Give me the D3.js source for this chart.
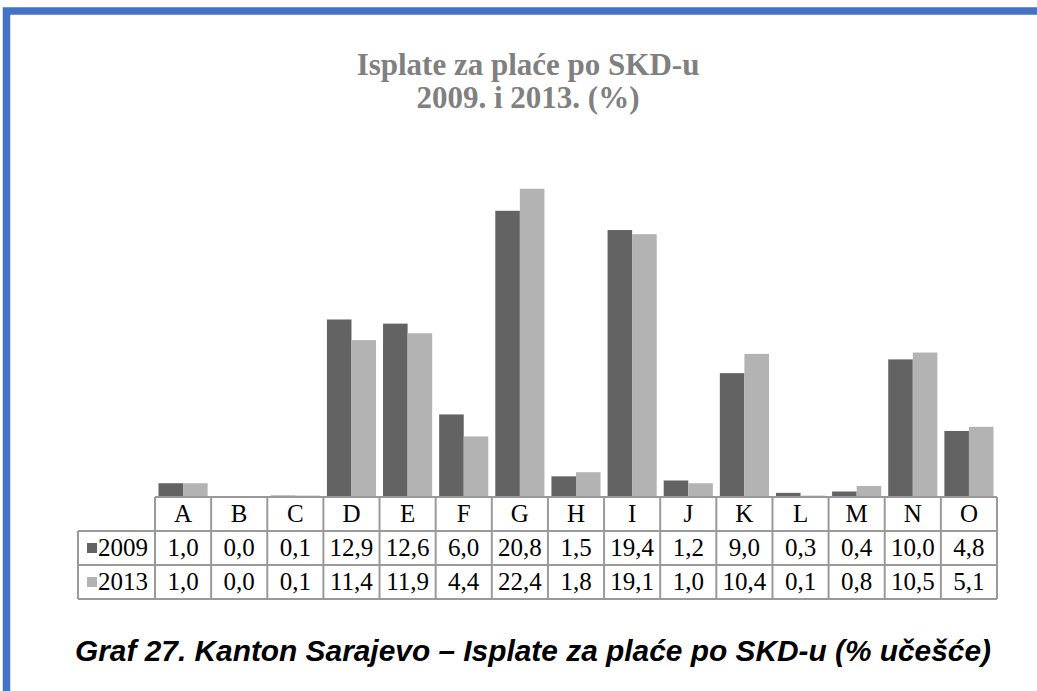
<!DOCTYPE html>
<html>
<head>
<meta charset="utf-8">
<script src="https://cdn.jsdelivr.net/npm/d3@7"></script>
<style>
  html, body { margin: 0; padding: 0; background: #fff; }
  svg { display: block; }
</style>
</head>
<body>
<div id="chart"></div>
<script>
// Datos
const categories = ["A","B","C","D","E","F","G","H","I","J","K","L","M","N","O"];
const seriesNames = ["2009", "2013"];
const values2009 = [1.0, 0.0, 0.1, 12.9, 12.6, 6.0, 20.8, 1.5, 19.4, 1.2, 9.0, 0.3, 0.4, 10.0, 4.8];
const values2013 = [1.0, 0.0, 0.1, 11.4, 11.9, 4.4, 22.4, 1.8, 19.1, 1.0, 10.4, 0.1, 0.8, 10.5, 5.1];
const seriesColors = ["#636363", "#b3b3b3"];

const titleLines = ["Isplate za plaće po SKD-u", "2009. i 2013. (%)"];
const caption = "Graf 27. Kanton Sarajevo – Isplate za plaće po SKD-u (% učešće)";

const series = [values2009, values2013];

const width = 1037, height = 691;
const svg = d3.select("#chart").append("svg")
    .attr("width", width)
    .attr("height", height);

// Marco azul
svg.append("rect")
    .attr("x", 6.5).attr("y", 11)
    .attr("width", 1200).attr("height", 900)
    .attr("fill", "none")
    .attr("stroke", "#4472C4")
    .attr("stroke-width", 7.5);

// Título
svg.append("g").selectAll("text")
    .data(titleLines)
    .enter().append("text")
    .attr("x", 528)
    .attr("y", (d, i) => 75 + i * 33)
    .attr("text-anchor", "middle")
    .style("font-family", "'Liberation Serif', 'Times New Roman', serif")
    .style("font-weight", "bold")
    .style("font-size", "31px")
    .attr("fill", "#808080")
    .text(d => d);

// Escalas
const plotLeft = 155, plotRight = 997;
const baseY = 497, topY = 153;
const x = d3.scaleBand().domain(categories).range([plotLeft, plotRight]).padding(0);
const x1 = d3.scaleBand().domain(seriesNames).range([3.5, x.bandwidth() - 3.5]).padding(0);
const y = d3.scaleLinear().domain([0, 25]).range([baseY, topY]);

// Barras
const gBars = svg.append("g");
seriesNames.forEach((name, si) => {
    gBars.append("g").selectAll("rect")
        .data(series[si])
        .enter().append("rect")
        .attr("x", (d, i) => x(categories[i]) + x1(name))
        .attr("y", d => y(d))
        .attr("width", x1.bandwidth())
        .attr("height", d => baseY - y(d))
        .attr("fill", seriesColors[si]);
});

// Tabla de datos
const fmt = d3.formatLocale({ decimal: ",", thousands: ".", grouping: [3], currency: ["", ""] }).format(".1f");
const rowH = 34;
const tableLeft = 78;
const rowTops = [baseY, baseY + rowH, baseY + 2 * rowH];
const tableBottom = baseY + 3 * rowH;
const lineColor = "#9a9a9a";
const serif = "'Liberation Serif', 'Times New Roman', serif";
const cellFont = "25px";

const gTable = svg.append("g");

// Encabezado de categorías
gTable.selectAll(".cat")
    .data(categories)
    .enter().append("text")
    .attr("class", "cat")
    .attr("x", d => x(d) + x.bandwidth() / 2)
    .attr("y", baseY + 25)
    .attr("text-anchor", "middle")
    .style("font-family", serif)
    .style("font-size", cellFont)
    .attr("fill", "#000")
    .text(d => d);

// Filas de valores
seriesNames.forEach((name, si) => {
    const ry = rowTops[si + 1];
    gTable.append("rect")
        .attr("x", 87).attr("y", ry + 12)
        .attr("width", 10).attr("height", 10)
        .attr("fill", seriesColors[si]);
    gTable.append("text")
        .attr("x", 98).attr("y", ry + 25)
        .style("font-family", serif)
        .style("font-size", cellFont)
        .attr("fill", "#000")
        .text(name);
    gTable.append("g").selectAll("text")
        .data(series[si])
        .enter().append("text")
        .attr("x", (d, i) => x(categories[i]) + x.bandwidth() / 2)
        .attr("y", ry + 25)
        .attr("text-anchor", "middle")
        .style("font-family", serif)
        .style("font-size", cellFont)
        .attr("fill", "#000")
        .text(d => fmt(d));
});

// Líneas de la tabla
const hLines = [
    { x1: plotLeft, x2: plotRight, y: rowTops[0] },
    { x1: tableLeft, x2: plotRight, y: rowTops[1] },
    { x1: tableLeft, x2: plotRight, y: rowTops[2] },
    { x1: tableLeft, x2: plotRight, y: tableBottom }
];
gTable.selectAll(".hl")
    .data(hLines)
    .enter().append("line")
    .attr("x1", d => d.x1).attr("x2", d => d.x2)
    .attr("y1", d => d.y).attr("y2", d => d.y)
    .attr("stroke", lineColor).attr("stroke-width", 2);

const vX = categories.map(c => x(c)).concat([plotRight]);
gTable.selectAll(".vl")
    .data(vX)
    .enter().append("line")
    .attr("x1", d => d).attr("x2", d => d)
    .attr("y1", rowTops[0]).attr("y2", tableBottom)
    .attr("stroke", lineColor).attr("stroke-width", 2);

gTable.append("line")
    .attr("x1", tableLeft).attr("x2", tableLeft)
    .attr("y1", rowTops[1]).attr("y2", tableBottom)
    .attr("stroke", lineColor).attr("stroke-width", 2);

// Pie del gráfico
svg.append("text")
    .attr("x", 75)
    .attr("y", 661)
    .attr("textLength", 916)
    .attr("lengthAdjust", "spacingAndGlyphs")
    .style("font-family", "'Liberation Sans', Arial, sans-serif")
    .style("font-weight", "bold")
    .style("font-style", "italic")
    .style("font-size", "29px")
    .attr("fill", "#000")
    .text(caption);
</script>
</body>
</html>
